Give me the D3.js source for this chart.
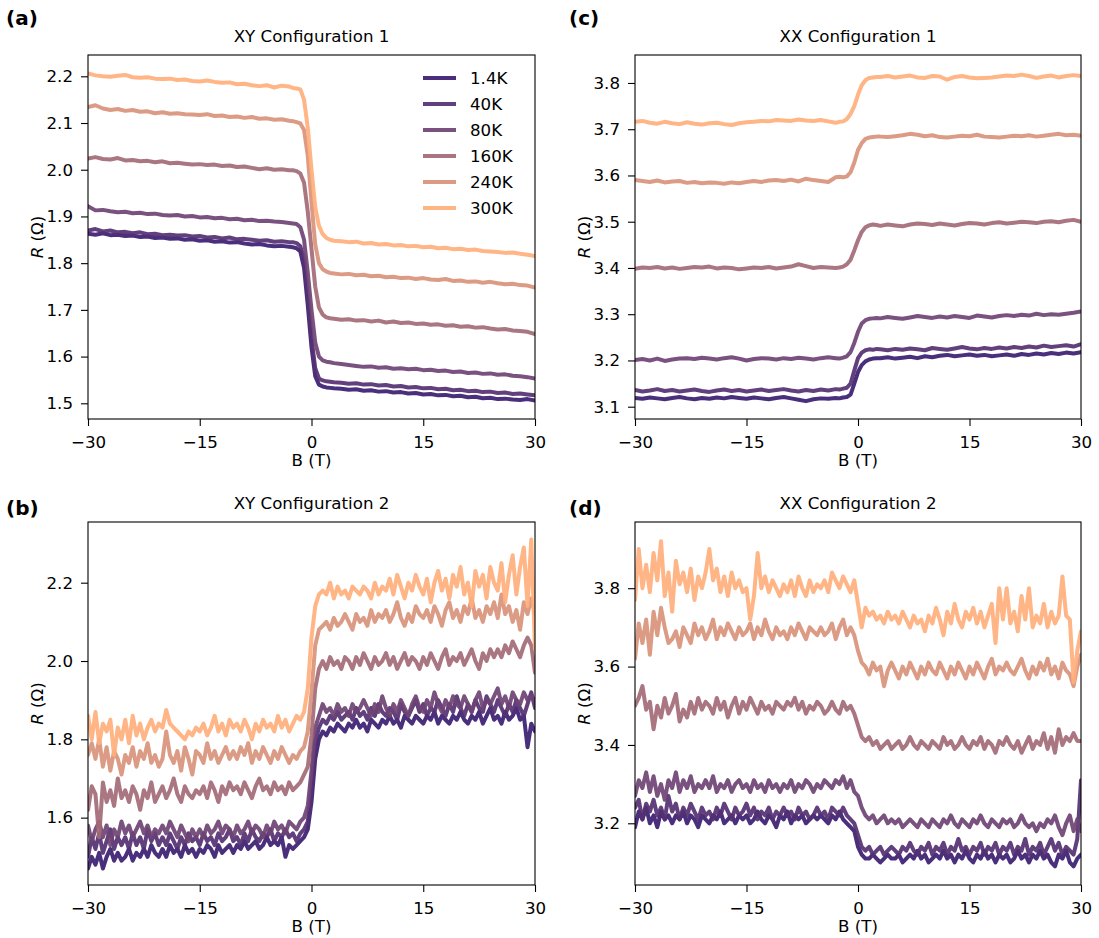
<!DOCTYPE html>
<html>
<head>
<meta charset="utf-8">
<script src="https://cdn.jsdelivr.net/npm/d3@7"></script>
<style>
  body { margin: 0; background: #fff; }
  text { font-family: "DejaVu Sans", sans-serif; fill: #000; }
</style>
</head>
<body>
<svg id="fig" width="1099" height="938"></svg>
<script>
// ---- data -------------------------------------------------------------
const temperatures = [1.4, 40, 80, 160, 240, 300];
const tempLabels = ["1.4K", "40K", "80K", "160K", "240K", "300K"];
const fieldTicks = [-30, -15, 0, 15, 30];

// field sweeps (T): coarse sweep with a denser window around zero, fine sweep every 0.5 T
const fieldCoarse = [...d3.range(-30, -2.5, 1), ...d3.range(-2.5, 3, 0.5), ...d3.range(3, 30.5, 1)];
const fieldFine = d3.range(121).map(i => -30 + 0.5 * i);

// (a) XY configuration 1, resistance in ohm on fieldCoarse
const xy1_1K4 = [1.863,1.861,1.864,1.860,1.861,1.858,1.859,1.856,1.857,1.854,1.855,1.852,1.853,1.850,1.851,1.848,1.849,1.846,1.847,1.844,1.845,1.842,1.840,1.841,1.838,1.836,1.837,1.835,
  1.834,1.832,1.825,1.79,1.71,1.62,1.558,1.540,1.536,1.534,1.533,
  1.532,1.531,1.529,1.530,1.527,1.528,1.525,1.526,1.523,1.524,1.521,1.522,1.519,1.520,1.517,1.518,1.515,1.516,1.513,1.514,1.511,1.512,1.509,1.510,1.508,1.507,1.509,1.506];
const xy1_40K = [1.870,1.873,1.868,1.870,1.866,1.867,1.864,1.866,1.862,1.863,1.860,1.861,1.859,1.860,1.857,1.858,1.855,1.856,1.853,1.855,1.851,1.852,1.850,1.848,1.849,1.846,1.847,1.845,
  1.845,1.843,1.836,1.81,1.73,1.64,1.575,1.553,1.549,1.547,1.546,
  1.545,1.544,1.542,1.543,1.540,1.541,1.538,1.539,1.536,1.537,1.534,1.535,1.532,1.533,1.530,1.531,1.528,1.529,1.526,1.527,1.524,1.525,1.522,1.523,1.520,1.521,1.519,1.517];
const xy1_80K = [1.922,1.913,1.914,1.911,1.909,1.910,1.907,1.908,1.905,1.906,1.903,1.902,1.903,1.900,1.901,1.898,1.899,1.896,1.897,1.894,1.895,1.892,1.893,1.890,1.891,1.889,1.888,1.886,
  1.885,1.884,1.877,1.85,1.78,1.70,1.63,1.60,1.592,1.589,1.588,
  1.586,1.584,1.582,1.580,1.578,1.579,1.576,1.577,1.574,1.575,1.573,1.574,1.571,1.572,1.569,1.570,1.567,1.568,1.565,1.566,1.563,1.564,1.561,1.562,1.559,1.558,1.556,1.553];
const xy1_160K = [2.024,2.027,2.023,2.022,2.025,2.020,2.021,2.018,2.019,2.016,2.018,2.014,2.015,2.013,2.011,2.012,2.010,2.011,2.008,2.009,2.006,2.007,2.004,2.001,2.003,2.000,2.001,1.999,
  1.999,1.997,1.992,1.972,1.91,1.83,1.75,1.705,1.690,1.684,1.682,
  1.681,1.679,1.680,1.677,1.678,1.675,1.677,1.673,1.675,1.672,1.673,1.670,1.671,1.668,1.669,1.666,1.667,1.664,1.665,1.662,1.663,1.660,1.658,1.659,1.656,1.655,1.653,1.648];
const xy1_240K = [2.134,2.138,2.131,2.128,2.130,2.126,2.128,2.124,2.125,2.121,2.123,2.120,2.121,2.119,2.118,2.117,2.119,2.115,2.116,2.113,2.114,2.111,2.113,2.109,2.110,2.107,2.108,2.105,
  2.104,2.102,2.099,2.085,2.03,1.93,1.84,1.80,1.787,1.782,1.779,
  1.778,1.776,1.777,1.774,1.775,1.772,1.773,1.770,1.771,1.768,1.769,1.766,1.768,1.765,1.764,1.766,1.762,1.763,1.760,1.761,1.758,1.760,1.757,1.755,1.756,1.753,1.752,1.748];
const xy1_300K = [2.206,2.202,2.200,2.199,2.201,2.203,2.198,2.197,2.198,2.195,2.194,2.195,2.192,2.193,2.190,2.189,2.191,2.188,2.186,2.187,2.183,2.184,2.181,2.179,2.181,2.176,2.180,2.178,
  2.175,2.174,2.172,2.15,2.09,2.00,1.92,1.88,1.862,1.854,1.850,
  1.848,1.847,1.845,1.846,1.842,1.843,1.840,1.841,1.838,1.839,1.836,1.837,1.834,1.835,1.832,1.833,1.830,1.831,1.828,1.829,1.826,1.825,1.824,1.822,1.823,1.820,1.818,1.815];

// (c) XX configuration 1, on fieldCoarse
const xx1_1K4 = [3.119,3.117,3.120,3.118,3.116,3.119,3.121,3.118,3.116,3.119,3.117,3.120,3.118,3.121,3.119,3.117,3.120,3.118,3.116,3.119,3.121,3.118,3.115,3.112,3.116,3.118,3.117,3.119,
  3.118,3.120,3.121,3.126,3.150,3.175,3.190,3.198,3.202,3.204,3.205,
  3.205,3.207,3.204,3.206,3.208,3.205,3.209,3.207,3.210,3.212,3.209,3.211,3.213,3.210,3.212,3.209,3.211,3.213,3.210,3.214,3.212,3.215,3.213,3.216,3.214,3.217,3.215,3.218];
const xx1_40K = [3.136,3.133,3.135,3.138,3.134,3.136,3.133,3.135,3.137,3.134,3.132,3.135,3.137,3.134,3.136,3.133,3.135,3.137,3.134,3.136,3.138,3.135,3.133,3.136,3.134,3.137,3.135,3.138,
  3.137,3.139,3.141,3.150,3.178,3.205,3.217,3.222,3.224,3.223,3.225,
  3.224,3.222,3.225,3.223,3.226,3.224,3.222,3.227,3.225,3.223,3.226,3.229,3.226,3.224,3.227,3.225,3.228,3.226,3.229,3.227,3.230,3.228,3.232,3.229,3.231,3.233,3.230,3.235];
const xx1_80K = [3.201,3.203,3.200,3.204,3.199,3.202,3.204,3.205,3.203,3.206,3.204,3.202,3.205,3.207,3.204,3.200,3.203,3.205,3.204,3.202,3.205,3.203,3.206,3.204,3.202,3.205,3.207,3.205,
  3.204,3.206,3.209,3.218,3.238,3.262,3.280,3.287,3.290,3.291,3.292,
  3.291,3.294,3.292,3.290,3.293,3.296,3.294,3.292,3.295,3.293,3.296,3.294,3.292,3.297,3.295,3.293,3.296,3.298,3.296,3.299,3.297,3.301,3.298,3.300,3.299,3.301,3.303,3.306];
const xx1_160K = [3.398,3.401,3.400,3.402,3.399,3.401,3.398,3.400,3.402,3.401,3.403,3.399,3.401,3.400,3.397,3.399,3.401,3.400,3.402,3.399,3.401,3.403,3.408,3.404,3.400,3.402,3.401,3.400,
  3.401,3.403,3.408,3.418,3.438,3.46,3.478,3.488,3.492,3.494,3.493,
  3.491,3.494,3.492,3.490,3.494,3.496,3.495,3.493,3.496,3.494,3.492,3.495,3.497,3.496,3.494,3.497,3.499,3.496,3.498,3.500,3.499,3.497,3.500,3.501,3.499,3.502,3.504,3.500];
const xx1_240K = [3.590,3.588,3.586,3.589,3.585,3.587,3.588,3.584,3.586,3.583,3.585,3.584,3.582,3.585,3.583,3.586,3.588,3.586,3.589,3.590,3.588,3.591,3.587,3.593,3.590,3.588,3.586,3.596,
  3.597,3.596,3.598,3.607,3.628,3.655,3.670,3.679,3.682,3.683,3.684,
  3.684,3.683,3.685,3.687,3.690,3.688,3.685,3.687,3.683,3.682,3.684,3.686,3.685,3.688,3.684,3.683,3.682,3.684,3.686,3.685,3.687,3.684,3.686,3.688,3.690,3.687,3.688,3.686];
const xx1_300K = [3.716,3.718,3.714,3.712,3.716,3.713,3.711,3.715,3.712,3.710,3.713,3.714,3.711,3.709,3.713,3.715,3.716,3.718,3.717,3.720,3.719,3.718,3.721,3.719,3.718,3.720,3.717,3.714,
  3.716,3.717,3.722,3.733,3.75,3.775,3.795,3.806,3.811,3.812,3.813,
  3.813,3.815,3.812,3.814,3.816,3.812,3.811,3.815,3.814,3.807,3.813,3.815,3.812,3.810,3.811,3.812,3.814,3.816,3.815,3.818,3.815,3.811,3.814,3.816,3.812,3.815,3.817,3.815];

// (b) XY configuration 2, on fieldFine
const xy2_1K4 = [1.47,1.50,1.48,1.51,1.47,1.50,1.52,1.49,1.51,1.49,
  1.50,1.52,1.49,1.51,1.50,1.52,1.50,1.53,1.51,1.50,
  1.52,1.50,1.53,1.51,1.52,1.50,1.53,1.51,1.52,1.50,
  1.52,1.51,1.53,1.52,1.50,1.53,1.51,1.52,1.53,1.51,
  1.53,1.52,1.54,1.52,1.53,1.54,1.52,1.53,1.55,1.53,
  1.54,1.53,1.55,1.50,1.53,1.52,1.53,1.54,1.55,1.57,
  1.64,1.75,1.80,1.82,1.81,1.83,1.82,1.84,1.83,1.82,
  1.84,1.83,1.85,1.83,1.84,1.82,1.85,1.84,1.83,1.85,
  1.84,1.86,1.84,1.85,1.83,1.86,1.85,1.84,1.86,1.85,
  1.84,1.86,1.85,1.87,1.84,1.86,1.85,1.84,1.86,1.85,
  1.87,1.85,1.84,1.86,1.85,1.87,1.84,1.86,1.88,1.85,
  1.86,1.84,1.87,1.85,1.86,1.88,1.85,1.86,1.78,1.84,
  1.82];
const xy2_40K = [1.50,1.55,1.52,1.56,1.51,1.54,1.57,1.52,1.55,1.53,
  1.55,1.52,1.56,1.53,1.55,1.52,1.57,1.54,1.56,1.53,
  1.55,1.53,1.56,1.54,1.52,1.55,1.53,1.56,1.54,1.55,
  1.53,1.56,1.54,1.55,1.53,1.56,1.54,1.55,1.57,1.54,
  1.55,1.53,1.56,1.54,1.57,1.55,1.54,1.56,1.55,1.57,
  1.54,1.56,1.55,1.57,1.55,1.56,1.54,1.56,1.57,1.59,
  1.68,1.79,1.83,1.85,1.84,1.86,1.85,1.87,1.85,1.86,
  1.87,1.85,1.88,1.86,1.87,1.85,1.88,1.86,1.89,1.87,
  1.86,1.88,1.87,1.85,1.89,1.87,1.86,1.88,1.90,1.87,
  1.89,1.86,1.88,1.87,1.90,1.88,1.86,1.89,1.87,1.91,
  1.88,1.86,1.89,1.87,1.90,1.88,1.87,1.91,1.89,1.87,
  1.90,1.88,1.86,1.89,1.87,1.90,1.88,1.86,1.89,1.92,
  1.88];
const xy2_80K = [1.58,1.54,1.57,1.59,1.55,1.58,1.53,1.57,1.55,1.59,
  1.56,1.58,1.55,1.57,1.59,1.56,1.58,1.55,1.57,1.56,
  1.58,1.56,1.59,1.57,1.55,1.58,1.56,1.54,1.57,1.55,
  1.57,1.55,1.58,1.56,1.57,1.59,1.56,1.58,1.57,1.55,
  1.58,1.56,1.57,1.59,1.56,1.58,1.57,1.55,1.58,1.56,
  1.59,1.57,1.58,1.56,1.59,1.58,1.57,1.59,1.60,1.63,
  1.72,1.83,1.86,1.89,1.87,1.88,1.86,1.89,1.87,1.88,
  1.86,1.89,1.87,1.88,1.90,1.88,1.86,1.89,1.87,1.91,
  1.88,1.86,1.89,1.87,1.90,1.88,1.86,1.89,1.91,1.88,
  1.87,1.90,1.88,1.92,1.89,1.87,1.90,1.88,1.91,1.89,
  1.88,1.91,1.89,1.87,1.90,1.92,1.88,1.90,1.89,1.91,
  1.93,1.89,1.91,1.88,1.92,1.90,1.89,1.92,1.90,1.91,
  1.90];
const xy2_160K = [1.62,1.68,1.66,1.55,1.69,1.64,1.67,1.63,1.70,1.65,
  1.67,1.64,1.68,1.66,1.62,1.67,1.65,1.69,1.64,1.66,
  1.68,1.65,1.67,1.70,1.66,1.64,1.68,1.66,1.65,1.67,
  1.66,1.68,1.65,1.69,1.67,1.64,1.68,1.66,1.69,1.67,
  1.68,1.66,1.69,1.67,1.65,1.68,1.70,1.67,1.68,1.66,
  1.69,1.67,1.68,1.66,1.69,1.67,1.68,1.69,1.71,1.73,
  1.81,1.93,1.98,2.00,1.98,2.01,1.99,2.00,1.98,2.01,
  2.00,1.98,2.01,1.99,2.02,2.00,1.98,2.01,1.99,2.00,
  2.02,1.99,2.01,1.98,2.00,2.02,1.99,2.01,2.00,1.98,
  2.01,1.99,2.02,2.00,1.98,2.01,2.03,1.99,2.01,2.00,
  2.02,1.99,2.01,2.03,2.00,1.98,2.02,2.00,2.03,2.01,
  2.03,2.01,2.04,2.02,2.05,2.03,2.01,2.04,2.06,2.04,
  1.97];
const xy2_240K = [1.76,1.79,1.75,1.80,1.73,1.78,1.72,1.77,1.75,1.71,
  1.76,1.74,1.78,1.73,1.77,1.75,1.79,1.74,1.76,1.73,
  1.75,1.82,1.76,1.74,1.77,1.72,1.78,1.75,1.71,1.77,
  1.76,1.74,1.79,1.75,1.77,1.74,1.76,1.78,1.75,1.77,
  1.75,1.78,1.76,1.79,1.74,1.77,1.75,1.78,1.76,1.74,
  1.77,1.75,1.78,1.76,1.74,1.76,1.75,1.77,1.78,1.82,
  1.92,2.04,2.08,2.09,2.10,2.08,2.11,2.09,2.10,2.12,
  2.10,2.08,2.12,2.10,2.11,2.09,2.13,2.10,2.12,2.11,
  2.13,2.10,2.12,2.15,2.11,2.09,2.12,2.10,2.14,2.12,
  2.11,2.13,2.10,2.14,2.12,2.09,2.13,2.15,2.11,2.13,
  2.10,2.14,2.12,2.16,2.11,2.13,2.10,2.14,2.12,2.15,
  2.11,2.17,2.12,2.14,2.10,2.13,2.08,2.15,2.12,2.16,
  2.12];
const xy2_300K = [1.86,1.80,1.87,1.79,1.84,1.82,1.85,1.76,1.83,1.80,
  1.85,1.79,1.86,1.81,1.84,1.80,1.83,1.85,1.82,1.84,
  1.83,1.875,1.84,1.83,1.82,1.81,1.80,1.82,1.81,1.83,
  1.82,1.84,1.81,1.83,1.86,1.82,1.84,1.81,1.85,1.83,
  1.84,1.82,1.85,1.83,1.80,1.84,1.82,1.85,1.83,1.84,
  1.82,1.86,1.83,1.85,1.82,1.84,1.86,1.85,1.87,1.93,
  2.06,2.14,2.17,2.18,2.17,2.20,2.16,2.19,2.17,2.18,
  2.16,2.19,2.18,2.17,2.19,2.18,2.16,2.20,2.17,2.19,
  2.18,2.21,2.17,2.22,2.19,2.16,2.20,2.18,2.22,2.19,
  2.17,2.21,2.15,2.20,2.23,2.18,2.21,2.16,2.22,2.19,
  2.24,2.17,2.20,2.14,2.23,2.19,2.22,2.16,2.24,2.20,
  2.18,2.25,2.15,2.22,2.27,2.17,2.24,2.29,2.14,2.31,
  2.03];

// (d) XX configuration 2, on fieldFine
const xx2_1K4 = [3.19,3.23,3.21,3.24,3.20,3.22,3.19,3.23,3.21,3.22,
  3.20,3.22,3.21,3.23,3.20,3.22,3.21,3.19,3.22,3.21,
  3.20,3.22,3.21,3.23,3.20,3.21,3.22,3.20,3.22,3.21,
  3.22,3.20,3.21,3.23,3.21,3.20,3.22,3.21,3.19,3.22,
  3.21,3.23,3.20,3.22,3.21,3.22,3.20,3.21,3.22,3.21,
  3.22,3.21,3.20,3.22,3.21,3.23,3.21,3.20,3.19,3.18,
  3.14,3.12,3.11,3.11,3.12,3.11,3.10,3.11,3.12,3.11,
  3.11,3.12,3.10,3.11,3.12,3.11,3.13,3.11,3.12,3.10,
  3.11,3.12,3.11,3.13,3.11,3.12,3.10,3.12,3.11,3.13,
  3.11,3.10,3.12,3.11,3.13,3.11,3.12,3.10,3.12,3.11,
  3.12,3.10,3.11,3.13,3.11,3.12,3.10,3.12,3.11,3.13,
  3.11,3.12,3.10,3.09,3.12,3.11,3.13,3.10,3.09,3.11,
  3.12];
const xx2_40K = [3.24,3.26,3.21,3.25,3.23,3.26,3.22,3.24,3.21,3.27,
  3.23,3.25,3.21,3.24,3.22,3.25,3.23,3.21,3.24,3.22,
  3.23,3.21,3.24,3.22,3.25,3.23,3.21,3.24,3.22,3.23,
  3.25,3.22,3.24,3.21,3.23,3.22,3.24,3.21,3.23,3.22,
  3.24,3.22,3.23,3.21,3.24,3.22,3.23,3.21,3.22,3.24,
  3.22,3.23,3.21,3.24,3.23,3.22,3.24,3.22,3.21,3.20,
  3.17,3.14,3.13,3.14,3.12,3.13,3.14,3.12,3.13,3.14,
  3.13,3.12,3.14,3.13,3.15,3.13,3.12,3.14,3.13,3.15,
  3.12,3.14,3.13,3.15,3.12,3.14,3.13,3.16,3.13,3.14,
  3.12,3.14,3.13,3.15,3.12,3.14,3.13,3.15,3.12,3.14,
  3.13,3.15,3.12,3.14,3.13,3.16,3.12,3.14,3.13,3.15,
  3.12,3.14,3.16,3.13,3.15,3.12,3.14,3.13,3.12,3.16,
  3.31];
const xx2_80K = [3.27,3.31,3.29,3.33,3.28,3.32,3.27,3.30,3.26,3.31,
  3.29,3.33,3.28,3.31,3.29,3.32,3.28,3.30,3.29,3.31,
  3.29,3.32,3.28,3.30,3.29,3.31,3.28,3.30,3.31,3.29,
  3.30,3.28,3.31,3.29,3.30,3.28,3.31,3.29,3.30,3.28,
  3.30,3.29,3.31,3.28,3.30,3.29,3.31,3.30,3.28,3.30,
  3.29,3.31,3.30,3.29,3.31,3.30,3.32,3.29,3.31,3.28,
  3.27,3.24,3.22,3.21,3.22,3.20,3.21,3.22,3.20,3.21,
  3.20,3.21,3.19,3.20,3.21,3.20,3.19,3.21,3.20,3.19,
  3.21,3.20,3.19,3.21,3.20,3.22,3.20,3.19,3.21,3.20,
  3.19,3.21,3.20,3.22,3.20,3.19,3.21,3.20,3.19,3.21,
  3.20,3.21,3.19,3.20,3.22,3.20,3.19,3.20,3.18,3.20,
  3.19,3.21,3.20,3.22,3.19,3.17,3.20,3.22,3.18,3.21,
  3.18];
const xx2_160K = [3.50,3.52,3.55,3.49,3.51,3.44,3.50,3.47,3.52,3.48,
  3.50,3.53,3.46,3.49,3.47,3.51,3.48,3.52,3.49,3.51,
  3.50,3.48,3.52,3.49,3.51,3.47,3.50,3.52,3.48,3.51,
  3.49,3.52,3.50,3.48,3.51,3.49,3.50,3.48,3.51,3.50,
  3.49,3.51,3.50,3.52,3.49,3.51,3.48,3.50,3.49,3.51,
  3.50,3.48,3.49,3.51,3.49,3.48,3.51,3.49,3.50,3.48,
  3.45,3.42,3.41,3.42,3.40,3.41,3.39,3.40,3.41,3.39,
  3.40,3.41,3.39,3.40,3.42,3.40,3.39,3.41,3.40,3.39,
  3.41,3.40,3.39,3.42,3.40,3.41,3.39,3.40,3.42,3.40,
  3.39,3.41,3.40,3.42,3.39,3.41,3.40,3.38,3.41,3.40,
  3.42,3.40,3.39,3.41,3.38,3.40,3.42,3.39,3.41,3.40,
  3.43,3.39,3.42,3.38,3.44,3.40,3.42,3.41,3.43,3.41,
  3.41];
const xx2_240K = [3.62,3.71,3.66,3.72,3.63,3.74,3.68,3.75,3.70,3.66,
  3.67,3.69,3.65,3.70,3.68,3.66,3.71,3.68,3.70,3.67,
  3.69,3.72,3.67,3.70,3.68,3.71,3.69,3.67,3.70,3.68,
  3.69,3.71,3.67,3.70,3.68,3.72,3.69,3.67,3.70,3.68,
  3.69,3.67,3.70,3.68,3.71,3.69,3.67,3.70,3.69,3.68,
  3.70,3.68,3.69,3.71,3.67,3.70,3.72,3.68,3.70,3.68,
  3.64,3.61,3.60,3.58,3.61,3.59,3.60,3.55,3.59,3.61,
  3.59,3.57,3.60,3.58,3.61,3.59,3.57,3.60,3.58,3.61,
  3.59,3.58,3.61,3.59,3.57,3.60,3.58,3.61,3.59,3.57,
  3.60,3.58,3.61,3.59,3.57,3.60,3.62,3.58,3.60,3.59,
  3.61,3.59,3.58,3.60,3.62,3.59,3.57,3.60,3.58,3.61,
  3.59,3.62,3.58,3.60,3.57,3.61,3.59,3.58,3.55,3.60,
  3.63];
const xx2_300K = [3.77,3.90,3.80,3.86,3.79,3.89,3.82,3.92,3.78,3.84,
  3.74,3.87,3.81,3.84,3.79,3.85,3.77,3.83,3.80,3.84,
  3.90,3.82,3.85,3.79,3.83,3.78,3.84,3.80,3.82,3.79,
  3.80,3.72,3.78,3.89,3.80,3.83,3.79,3.82,3.80,3.78,
  3.81,3.79,3.82,3.78,3.83,3.80,3.78,3.82,3.79,3.81,
  3.80,3.82,3.79,3.84,3.82,3.80,3.83,3.81,3.79,3.82,
  3.76,3.70,3.75,3.73,3.74,3.72,3.73,3.71,3.74,3.72,
  3.73,3.71,3.74,3.72,3.70,3.73,3.71,3.72,3.69,3.73,
  3.71,3.75,3.72,3.68,3.74,3.71,3.76,3.72,3.70,3.74,
  3.72,3.75,3.71,3.74,3.70,3.73,3.76,3.66,3.80,3.72,
  3.80,3.71,3.74,3.69,3.78,3.72,3.80,3.70,3.73,3.71,
  3.76,3.70,3.74,3.71,3.73,3.83,3.73,3.72,3.56,3.64,
  3.69];

const yTicksA = [1.5, 1.6, 1.7, 1.8, 1.9, 2.0, 2.1, 2.2];
const yTicksB = [1.6, 1.8, 2.0, 2.2];
const yTicksC = [3.1, 3.2, 3.3, 3.4, 3.5, 3.6, 3.7, 3.8];
const yTicksD = [3.2, 3.4, 3.6, 3.8];

// ---- layout ---------------------------------------------------------------
const panels = [
  { tag: "(a)", title: "XY Configuration 1", box: [88, 535, 55, 419], yDomain: [1.4664, 2.2456],
    yTicks: yTicksA, field: fieldCoarse, series: [xy1_1K4, xy1_40K, xy1_80K, xy1_160K, xy1_240K, xy1_300K],
    tagPos: [6, 25], legend: true },
  { tag: "(c)", title: "XX Configuration 1", box: [635, 1081, 55, 419], yDomain: [3.0734, 3.8605],
    yTicks: yTicksC, field: fieldCoarse, series: [xx1_1K4, xx1_40K, xx1_80K, xx1_160K, xx1_240K, xx1_300K],
    tagPos: [569, 25] },
  { tag: "(b)", title: "XY Configuration 2", box: [88, 535, 522, 885], yDomain: [1.428, 2.355],
    yTicks: yTicksB, field: fieldFine, series: [xy2_1K4, xy2_40K, xy2_80K, xy2_160K, xy2_240K, xy2_300K],
    tagPos: [6, 515] },
  { tag: "(d)", title: "XX Configuration 2", box: [635, 1081, 522, 885], yDomain: [3.0425, 3.969],
    yTicks: yTicksD, field: fieldFine, series: [xx2_1K4, xx2_40K, xx2_80K, xx2_160K, xx2_240K, xx2_300K],
    tagPos: [569, 515] }
];

const FONT = 16.67;
const colorOf = d3.interpolateRgb("#3a1c71", "#ffaf7b");
const lineColors = temperatures.map(t => colorOf(t / 300));
const fmtField = d => (d < 0 ? "\u2212" + Math.abs(d) : String(d));
const fmtR = d3.format(".1f");

const svg = d3.select("#fig");
svg.append("rect").attr("width", 1099).attr("height", 938).attr("fill", "#fff");

panels.forEach((p, pi) => {
  const [x0, x1, y0, y1] = p.box;
  const x = d3.scaleLinear().domain([-30, 30]).range([x0, x1]);
  const y = d3.scaleLinear().domain(p.yDomain).range([y1, y0]);

  const clipId = "clip" + pi;
  svg.append("clipPath").attr("id", clipId)
    .append("rect").attr("x", x0).attr("y", y0).attr("width", x1 - x0).attr("height", y1 - y0);

  const g = svg.append("g").attr("clip-path", `url(#${clipId})`);
  const line = d3.line().x((d, i) => x(p.field[i])).y(d => y(d));
  p.series.forEach((vals, si) => {
    g.append("path")
      .attr("d", line(vals))
      .attr("fill", "none")
      .attr("stroke", lineColors[si])
      .attr("stroke-width", 4)
      .attr("stroke-linejoin", "round")
      .attr("stroke-linecap", "round")
      .attr("opacity", 0.92);
  });

  // frame
  svg.append("rect").attr("x", x0).attr("y", y0).attr("width", x1 - x0).attr("height", y1 - y0)
    .attr("fill", "none").attr("stroke", "#000").attr("stroke-width", 1.1);

  const xAxis = svg.append("g").attr("transform", `translate(0,${y1})`)
    .call(d3.axisBottom(x).tickValues(fieldTicks).tickFormat(fmtField).tickSize(7).tickPadding(10).tickSizeOuter(0));
  const yAxis = svg.append("g").attr("transform", `translate(${x0},0)`)
    .call(d3.axisLeft(y).tickValues(p.yTicks).tickFormat(fmtR).tickSize(7).tickPadding(8).tickSizeOuter(0));
  [xAxis, yAxis].forEach(a => {
    a.select(".domain").remove();
    a.selectAll(".tick line").attr("stroke", "#000").attr("stroke-width", 1.1);
    a.selectAll(".tick text").attr("font-size", FONT).attr("font-family", "DejaVu Sans").attr("fill", "#000");
  });

  svg.append("text").attr("x", (x0 + x1) / 2).attr("y", y0 - 13)
    .attr("text-anchor", "middle").attr("font-size", FONT).text(p.title);

  svg.append("text").attr("x", (x0 + x1) / 2).attr("y", y1 + 47)
    .attr("text-anchor", "middle").attr("font-size", FONT).text("B (T)");

  const yl = svg.append("text")
    .attr("transform", `translate(${x0 - 45},${(y0 + y1) / 2}) rotate(-90)`)
    .attr("text-anchor", "middle").attr("font-size", FONT);
  yl.append("tspan").attr("font-style", "italic").text("R");
  yl.append("tspan").text(" (\u03A9)");

  svg.append("text").attr("x", p.tagPos[0]).attr("y", p.tagPos[1])
    .attr("font-size", 20).attr("font-weight", "bold").text(p.tag);

  if (p.legend) {
    const lg = svg.append("g");
    tempLabels.forEach((lab, i) => {
      const ly = 78 + 26 * i;
      lg.append("line").attr("x1", 423).attr("x2", 456).attr("y1", ly).attr("y2", ly)
        .attr("stroke", lineColors[i]).attr("stroke-width", 4).attr("opacity", 0.92);
      lg.append("text").attr("x", 470).attr("y", ly).attr("dy", "0.36em")
        .attr("font-size", FONT).text(lab);
    });
  }
});
</script>
</body>
</html>
